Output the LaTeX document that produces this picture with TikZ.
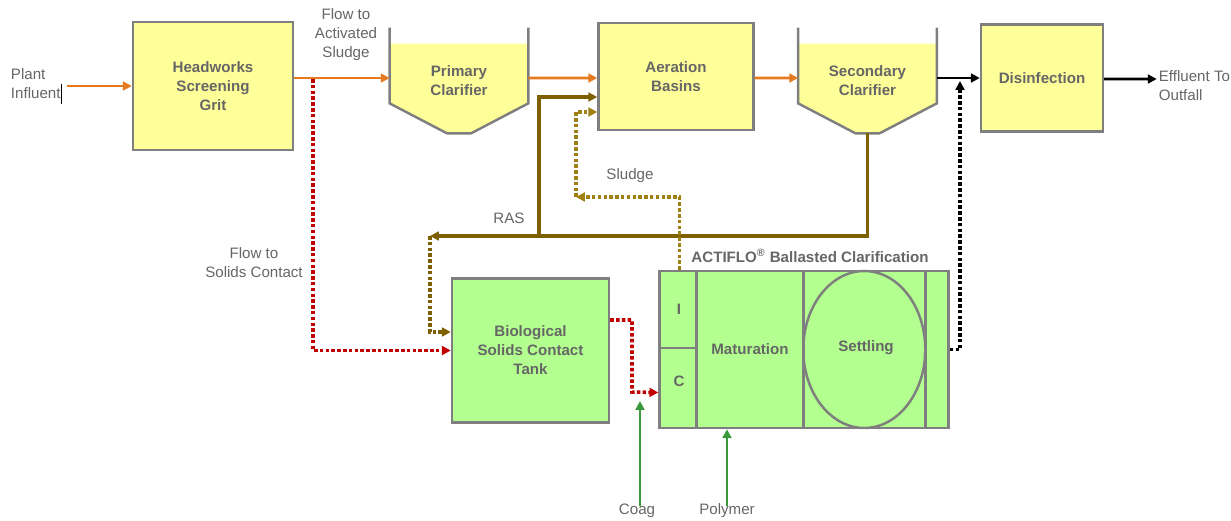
\documentclass[tikz,border=0pt]{standalone}
\usepackage{fontspec}
\setmainfont{Liberation Sans}
\usepackage{tikz}
\usetikzlibrary{positioning,arrows.meta,calc,shapes.geometric,backgrounds}
\definecolor{boxline}{HTML}{7F7F7F}
\definecolor{txtgray}{HTML}{666666}
\definecolor{paleyellow}{HTML}{FFFF99}
\definecolor{palegreen}{HTML}{B3FF8F}
\definecolor{flowor}{HTML}{E57B1E}
\definecolor{rasbrown}{HTML}{7F6000}
\definecolor{sludgegold}{HTML}{A08010}
\definecolor{darkred}{HTML}{C00000}
\definecolor{chemgreen}{HTML}{3A9A3A}

% tank outline with sloped bottom, drawn behind the node text
\newcommand{\clarifier}[1]{%
  \begin{scope}[on background layer]
  \fill[paleyellow] ($(#1.north west)+(0,16)$) -- ($(#1.north east)+(0,16)$)
      -- ($(#1.south east)+(0,-30)$) -- ($(#1.south)+(12,0)$)
      -- ($(#1.south)+(-12,0)$) -- ($(#1.south west)+(0,-30)$) -- cycle;
  \draw[boxline, line width=1.4pt] (#1.north west) -- ($(#1.south west)+(0,-30)$)
      -- ($(#1.south)+(-12,0)$) -- ($(#1.south)+(12,0)$)
      -- ($(#1.south east)+(0,-30)$) -- (#1.north east);
  \end{scope}}

\begin{document}
\begin{tikzpicture}[
    x=0.2mm, y=-0.2mm,
    font=\fontsize{8.6}{10.8}\selectfont,
    box/.style={draw=boxline, line width=1.4pt, fill=paleyellow, align=center,
                text=txtgray, font=\fontsize{8.6}{10.8}\selectfont\bfseries, inner sep=0pt},
    tank/.style={box, fill=palegreen},
    basin/.style={align=center, text=txtgray, font=\fontsize{8.6}{10.8}\selectfont\bfseries,
                  minimum width=27.6mm, minimum height=21mm, inner sep=0pt},
    part/.style={text=txtgray, font=\fontsize{8.6}{10.8}\selectfont\bfseries},
    lbl/.style={align=center, text=txtgray},
    tip/.style={-{Triangle[length=5pt,width=5pt]}},
    flow/.style={tip, draw=flowor, line width=1.6pt},
    eff/.style={tip, draw=black, line width=1.6pt},
    ras/.style={tip, draw=rasbrown, line width=2pt},
    dots/.style={tip, line width=2pt, dash pattern=on 2pt off 1.3pt},
    rasdot/.style={dots, draw=rasbrown},
    sludge/.style={dots, draw=sludgegold},
    reddot/.style={dots, draw=darkred},
    effdot/.style={dots, draw=black},
    chem/.style={tip, draw=chemgreen, line width=1.4pt}
]
\useasboundingbox (0,0) rectangle (1231,520);

% main train
\node[box, minimum width=32mm, minimum height=25.6mm] (head) at (213,86) {Headworks\\Screening\\Grit};
\node[basin] (prim) at (459,80.5) {Primary\\Clarifier};
\node[box, minimum width=31mm, minimum height=21.4mm] (aer) at (676,76.5) {Aeration\\Basins};
\node[basin] (sec) at (867.5,80.5) {Secondary\\Clarifier};
\node[box, minimum width=24.4mm, minimum height=21.4mm] (dis) at (1042,78) {Disinfection};
\clarifier{prim}
\clarifier{sec}

\node[lbl, align=left, left=13mm of head] (infl) {Plant\\Influent\makebox[0pt][l]{\color{black}\rule[-3pt]{0.6pt}{11pt}}};
\node[lbl, align=left, right=10.5mm of dis, yshift=-1.6mm, inner sep=1pt] (out) {Effluent To\\Outfall};
\node[lbl] (actsl) at (346,35) {Flow to\\Activated\\Sludge};

% solids contact + actiflo
\node[tank, minimum width=31.4mm, minimum height=28.8mm] (bio) at (530.5,350.5) {Biological\\Solids Contact\\Tank};
\node[tank, minimum width=57.8mm, minimum height=31.4mm] (actiflo) at (804,349.5) {};
\draw[boxline, line width=1.4pt] ($(actiflo.north west)+(38,0)$) -- ($(actiflo.south west)+(38,0)$);
\draw[boxline, line width=1.4pt] ($(actiflo.north west)+(145,0)$) -- ($(actiflo.south west)+(145,0)$);
\draw[boxline, line width=1.4pt] ($(actiflo.north west)+(267,0)$) -- ($(actiflo.south west)+(267,0)$);
\draw[boxline, line width=1.4pt] ($(actiflo.west)+(0,-1.5)$) -- ($(actiflo.west)+(38,-1.5)$);
\draw[boxline, line width=1.4pt] ($(actiflo.west)+(206,0)$) ellipse [x radius=12.2mm, y radius=15.7mm];
\node[part] (ai) at (679,309) {I};
\node[part] (ac) at (679,381) {C};
\node[part] (mat) at (750,349) {Maturation};
\node[part] (set) at (866,348) {Settling};
\node[part, anchor=west] (actlbl) at ($(actiflo.north west)+(27,-14)$) {ACTIFLO\textsuperscript{\textregistered} Ballasted Clarification};

\node[lbl] (ras) at (509,218) {RAS};
\node[lbl] (sl) at (630,176) {Sludge};
\node[lbl] (scl) at (254,263) {Flow to\\Solids Contact};
\node[lbl] (coag) at (637,511) {Coag};
\node[lbl] (poly) at (727,511) {Polymer};

% points on the lines
\coordinate (rs) at (313,79);
\coordinate (rasend) at (430,236);
\coordinate (rasup) at (539,236);
\coordinate (sl1) at (576,197);
\coordinate (bk) at (960,81);
\coordinate (coagin) at (640,401);

% forward flow
\draw[flow] (infl) -- (head);
\draw[flow] ($(head.east)+(0,-8)$) -- ($(prim.west)+(0,-2.5)$);
\draw[flow] ($(prim.east)+(0,-2.5)$) -- ($(aer.west)+(0,1.5)$);
\draw[flow] ($(aer.east)+(0,1.5)$) -- ($(sec.west)+(0,-2.5)$);
\draw[eff] ($(sec.east)+(0,-2.5)$) -- ($(dis.west)+(0,0)$);
\draw[eff] ($(dis.east)+(0,1)$) -- ($(out.west)+(0,-7)$);

% return and side streams
\draw[ras] (sec.south) |- (rasend);
\draw[ras] (rasup) |- ($(aer.west)+(0,20.5)$);
\draw[rasdot] (rasend) |- ($(bio.west)+(0,-18.5)$);
\draw[sludge] ($(actiflo.north west)+(21,0)$) |- (sl1);
\draw[sludge] (sl1) |- ($(aer.west)+(0,35.5)$);
\draw[reddot] (rs) |- (bio.west);
\draw[reddot] ($(bio.east)+(0,-30.5)$) -| (632,392) -- ($(actiflo.west)+(0,43)$);
\draw[effdot] (actiflo.east) -| (bk);
\draw[chem] ($(coag.north)+(3,8)$) -- (coagin);
\draw[chem] ($(poly.north)+(0,8)$) -- (poly.north |- actiflo.south);
\end{tikzpicture}
\end{document}
